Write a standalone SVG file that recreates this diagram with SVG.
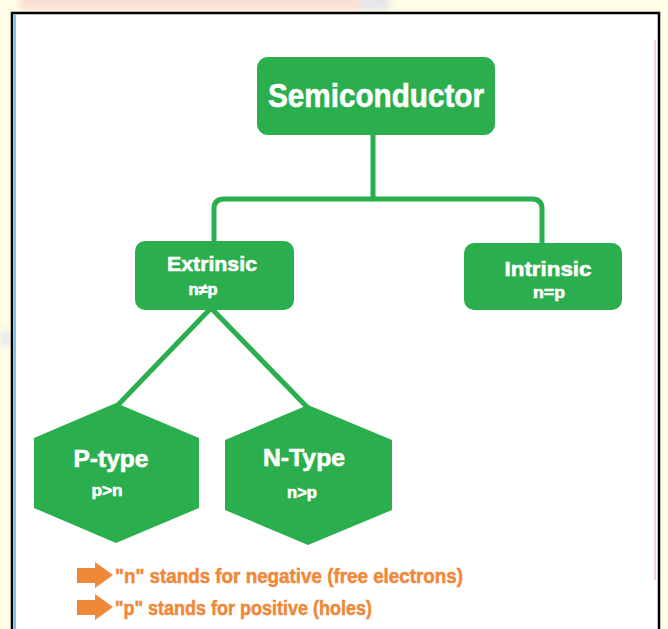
<svg xmlns="http://www.w3.org/2000/svg" width="668" height="629" viewBox="0 0 668 629">
  <defs>
    <filter id="soft" x="-20%" y="-200%" width="140%" height="500%">
      <feGaussianBlur stdDeviation="3"/>
    </filter>
    <style>
      .node { fill: #2bae4d; }
      .link { fill: none; stroke: #2bae4d; stroke-width: 5; stroke-linecap: round; stroke-linejoin: round; }
      .lbl { font-family: "Liberation Sans Narrow", "Liberation Sans", "Arial Narrow", sans-serif; font-weight: bold; fill: #ffffff; stroke: #ffffff; stroke-width: 0.6; text-anchor: middle; }
      .note { font-family: "Liberation Sans Narrow", "Liberation Sans", "Arial Narrow", sans-serif; font-weight: bold; fill: #f0883a; stroke: #f0883a; stroke-width: 0.5; font-size: 20px; }
      .bullet { fill: #f0883a; }
    </style>
  </defs>

  <!-- page background around the frame -->
  <rect x="0" y="0" width="668" height="629" fill="#fffde8"/>
  <g filter="url(#soft)" opacity="0.45">
    <rect x="20" y="-4" width="340" height="14" fill="#f6b9b9"/>
    <rect x="360" y="-4" width="30" height="14" fill="#c9c6ec"/>
    <rect x="0" y="330" width="12" height="16" fill="#d6d4f0"/>
  </g>

  <!-- framed white panel -->
  <rect x="12" y="13" width="647" height="630" fill="#ffffff" stroke="#000000" stroke-width="2.5"/>
  <line x1="15" y1="15" x2="15" y2="629" stroke="#4fb3e0" stroke-width="1.5"/>
  <line x1="655" y1="40" x2="655" y2="580" stroke="#f4c2cc" stroke-width="1.5"/>

  <!-- connectors -->
  <g id="connectors">
    <line class="link" x1="373" y1="134" x2="373" y2="199"/>
    <path class="link" d="M214 243 V209 Q214 199 224 199 H532 Q542 199 542 209 V245"/>
    <line class="link" x1="211" y1="308" x2="117" y2="406"/>
    <line class="link" x1="211" y1="308" x2="308" y2="408"/>
  </g>

  <!-- root node -->
  <g id="semiconductor">
    <rect class="node" x="257" y="57" width="238" height="78" rx="11"/>
    <text class="lbl" x="376" y="107" font-size="34" textLength="216" lengthAdjust="spacingAndGlyphs">Semiconductor</text>
  </g>

  <!-- second level -->
  <g id="extrinsic">
    <rect class="node" x="135" y="241" width="159" height="69" rx="10"/>
    <text class="lbl" x="212" y="271" font-size="21" textLength="90" lengthAdjust="spacingAndGlyphs">Extrinsic</text>
    <text class="lbl" x="203" y="295" font-size="16" textLength="29" lengthAdjust="spacingAndGlyphs">n≠p</text>
  </g>

  <g id="intrinsic">
    <rect class="node" x="464" y="243" width="158" height="67" rx="10"/>
    <text class="lbl" x="548" y="276" font-size="21" textLength="87" lengthAdjust="spacingAndGlyphs">Intrinsic</text>
    <text class="lbl" x="549" y="298" font-size="16" textLength="32" lengthAdjust="spacingAndGlyphs">n=p</text>
  </g>

  <!-- doping types -->
  <g id="p-type">
    <polygon class="node" points="116,403 199,438 199,508 116,543 34,508 34,438"/>
    <text class="lbl" x="111" y="467" font-size="24" textLength="75" lengthAdjust="spacingAndGlyphs">P-type</text>
    <text class="lbl" x="107" y="496" font-size="16" textLength="31" lengthAdjust="spacingAndGlyphs">p&gt;n</text>
  </g>

  <g id="n-type">
    <polygon class="node" points="308,405 392,440 392,510 308,545 225,510 225,440"/>
    <text class="lbl" x="304" y="466" font-size="24" textLength="82" lengthAdjust="spacingAndGlyphs">N-Type</text>
    <text class="lbl" x="302" y="498" font-size="16" textLength="30" lengthAdjust="spacingAndGlyphs">n&gt;p</text>
  </g>

  <!-- legend -->
  <g id="legend">
    <polygon class="bullet" points="77,568 95,568 95,562 113,575 95,588 95,583 77,583"/>
    <text class="note" x="115" y="583" textLength="348" lengthAdjust="spacingAndGlyphs">"n" stands for negative (free electrons)</text>
    <polygon class="bullet" points="77,600 95,600 95,594 113,607 95,620 95,615 77,615"/>
    <text class="note" x="115" y="615" textLength="257" lengthAdjust="spacingAndGlyphs">"p" stands for positive (holes)</text>
  </g>
</svg>
